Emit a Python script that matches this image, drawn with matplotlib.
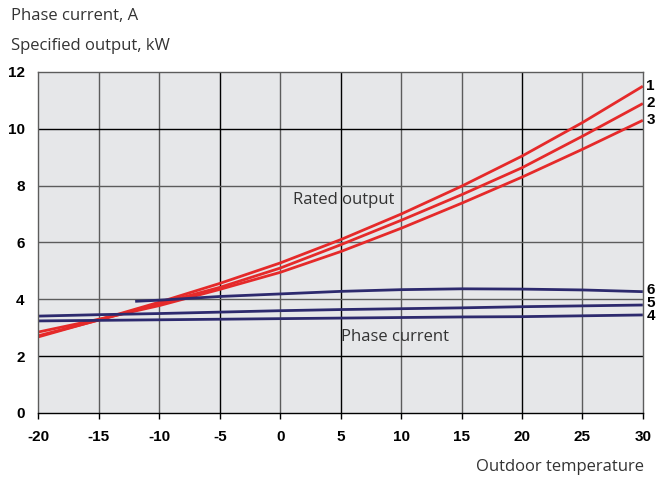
import numpy as np
import matplotlib.pyplot as plt

plt.rcParams['axes.unicode_minus'] = False

# outdoor temperature points
temp = [-20, -15, -10, -5, 0, 5, 10, 15, 20, 25, 30]

# rated output curves, kW
out_1 = [2.68, 3.28, 3.90, 4.56, 5.28, 6.10, 7.00, 7.98, 9.04, 10.22, 11.50]
out_2 = [2.72, 3.27, 3.85, 4.42, 5.10, 5.92, 6.78, 7.68, 8.63, 9.74, 10.89]
out_3 = [2.85, 3.30, 3.78, 4.35, 4.95, 5.68, 6.50, 7.38, 8.30, 9.28, 10.30]

# phase current curves, A
cur_4 = [3.24, 3.26, 3.28, 3.30, 3.32, 3.34, 3.36, 3.38, 3.39, 3.42, 3.45]
cur_5 = [3.41, 3.46, 3.50, 3.55, 3.60, 3.64, 3.67, 3.70, 3.74, 3.77, 3.80]
temp_6 = [-12, -10, -5, 0, 5, 10, 15, 20, 25, 30]
cur_6 = [3.93, 3.97, 4.10, 4.19, 4.28, 4.34, 4.37, 4.36, 4.33, 4.27]

red = '#e52a2a'
blue = '#2d2a6e'
txt = '#333333'
grid_dark = '#5c5c5c'

fig = plt.figure(figsize=(6.6, 4.8), dpi=100)
ax = fig.add_axes([0.0583, 0.1396, 0.9157, 0.7104])
ax.set_facecolor('#e6e7e9')

ax.set_xlim(-20, 30)
ax.set_ylim(0, 12)
ax.set_xticks(np.arange(-20, 31, 5))
ax.set_yticks(np.arange(0, 13, 2))

# grid lines, a few drawn in black as in the original
for xv in range(-15, 30, 5):
    c = 'black' if xv in (-5, 5, 20) else grid_dark
    ax.axvline(xv, color=c, lw=1.0, zorder=0.5)
for yv in range(2, 12, 2):
    c = 'black' if yv in (2, 10) else grid_dark
    ax.axhline(yv, color=c, lw=1.0, zorder=0.5)

for s in ax.spines.values():
    s.set_color(grid_dark)
    s.set_linewidth(1.0)
ax.spines['bottom'].set_color('black')

ax.tick_params(axis='x', length=4, width=1, color='black', pad=8)
ax.tick_params(axis='y', length=0, pad=10)
for lab in ax.get_xticklabels() + ax.get_yticklabels():
    lab.set_fontfamily('Liberation Sans')
    lab.set_fontweight('bold')
    lab.set_fontsize(11)

for y in (out_1, out_2, out_3):
    ax.plot(temp, y, color=red, lw=2.0, solid_capstyle='butt')
for y in (cur_4, cur_5):
    ax.plot(temp, y, color=blue, lw=2.0, solid_capstyle='butt')
ax.plot(temp_6, cur_6, color=blue, lw=2.0, solid_capstyle='butt')

# curve numbers at the right end
ends = [('1', 11.5), ('2', 10.9), ('3', 10.3),
        ('4', 3.42), ('5', 3.88), ('6', 4.33)]
for name, yv in ends:
    ax.text(30.3, yv, name, fontfamily='Liberation Sans', fontweight='bold',
            fontsize=11, va='center', ha='left', clip_on=False)

ax.text(1.05, 7.5, 'Rated output', fontfamily='Open Sans', fontsize=12,
        color=txt, va='center', ha='left')
ax.text(5.0, 2.69, 'Phase current', fontfamily='Open Sans', fontsize=12,
        color=txt, va='center', ha='left')

fig.text(0.017, 0.966, 'Phase current, A', fontfamily='Open Sans',
         fontsize=12, color=txt, va='center', ha='left')
fig.text(0.017, 0.905, 'Specified output, kW', fontfamily='Open Sans',
         fontsize=12, color=txt, va='center', ha='left')
fig.text(0.975, 0.027, 'Outdoor temperature', fontfamily='Open Sans',
         fontsize=12, color=txt, va='center', ha='right')

fig.savefig('out.png', dpi=100)
